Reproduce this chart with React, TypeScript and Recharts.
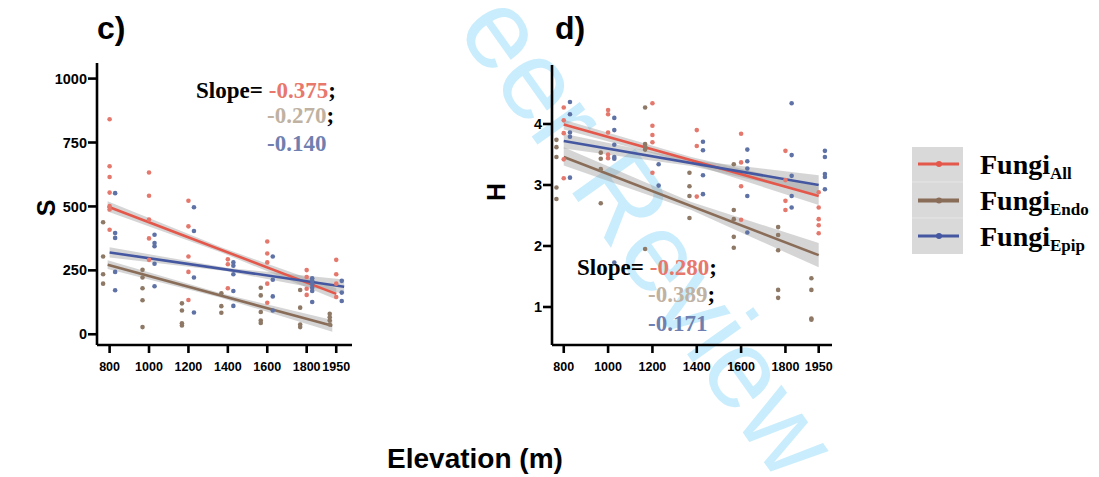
import React from 'react';
import { ComposedChart, XAxis, YAxis, Scatter, Line, Area } from 'recharts';

// ---------- data ----------
const ELEVATIONS = [800, 1000, 1200, 1400, 1600, 1800, 1950];
const X_TICKS = [800, 1000, 1200, 1400, 1600, 1800, 1950];
const S_TICKS = [0, 250, 500, 750, 1000];
const H_TICKS = [1, 2, 3, 4];

// panel c: richness S, grouped by elevation
const S_ALL = [
  [841, 657, 615, 554, 501, 488, 409],
  [633, 542, 449, 375, 291],
  [522, 422, 304, 244, 134],
  [293, 274, 180],
  [363, 316, 281, 198, 123],
  [251, 224, 178, 154],
  [291, 235, 198, 146],
];
const S_ENDO = [
  [438, 304, 235, 198],
  [252, 222, 180, 133, 28],
  [121, 93, 43, 34],
  [160, 110, 84],
  [182, 152, 87, 54, 44],
  [173, 104, 38, 28],
  [80, 67, 54, 38],
];
const S_EPIP = [
  [552, 396, 377, 244, 172],
  [389, 357, 344, 276, 188],
  [497, 404, 222, 85],
  [281, 268, 235, 169, 111],
  [304, 213, 148, 93],
  [219, 209, 196, 182, 169, 126],
  [209, 163, 130],
];

// panel d: Shannon H, grouped by elevation
const H_ALL = [
  [4.27, 4.06, 3.85, 3.42, 3.11],
  [4.23, 4.16, 3.86, 3.5, 3.44],
  [4.34, 3.97, 3.82, 3.7, 3.2],
  [3.9, 3.64, 2.81],
  [3.84, 3.37, 2.98, 2.43],
  [3.56, 3.08, 2.74, 2.59],
  [2.88, 2.63, 2.44, 2.34, 2.21],
];
const H_ENDO = [
  [3.74, 3.62, 3.46, 2.96, 2.77],
  [3.53, 3.43, 3.26, 2.7],
  [4.27, 3.67, 3.63, 3.58, 1.95],
  [3.2, 2.98, 2.82, 2.46],
  [3.34, 2.59, 2.44, 2.15, 1.97],
  [2.31, 2.18, 1.93, 1.28, 1.15],
  [1.47, 1.28, 0.81, 0.79],
];
const H_EPIP = [
  [4.36, 4.16, 3.86, 3.79, 3.12],
  [4.1, 3.9, 3.66, 3.46, 3.43, 1.73],
  [3.34, 2.99],
  [3.71, 3.57, 3.16, 2.85],
  [3.58, 3.39, 3.27, 2.82, 2.22],
  [4.34, 3.49, 3.15, 2.82, 2.63],
  [3.56, 3.46, 3.18, 3.13, 2.93],
];

// fitted regression lines (end points) and confidence bands
const FIT_S_ALL = { x: [790, 1950], y: [500, 158] };
const FIT_S_ENDO = { x: [790, 1930], y: [272, 33] };
const FIT_S_EPIP = { x: [800, 1990], y: [320, 186] };
const BAND_S_ALL = { x: [790, 1370, 1950], lo: [480, 319, 136], hi: [520, 339, 180] };
const BAND_S_ENDO = { x: [790, 1360, 1930], lo: [255, 144, 10], hi: [289, 161, 56] };
const BAND_S_EPIP = { x: [800, 1395, 1990], lo: [300, 246, 158], hi: [340, 260, 214] };

const FIT_H_ALL = { x: [800, 1950], y: [3.99, 2.82] };
const FIT_H_ENDO = { x: [800, 1950], y: [3.46, 1.85] };
const FIT_H_EPIP = { x: [800, 1950], y: [3.72, 3.0] };
const BAND_H_ALL = { x: [800, 1375, 1950], lo: [3.91, 3.35, 2.67], hi: [4.07, 3.46, 2.97] };
const BAND_H_ENDO = { x: [800, 1375, 1950], lo: [3.32, 2.59, 1.65], hi: [3.62, 2.72, 2.05] };
const BAND_H_EPIP = { x: [800, 1375, 1950], lo: [3.6, 3.31, 2.84], hi: [3.84, 3.41, 3.16] };

const SLOPES_S = ['-0.375', '-0.270', '-0.140'];
const SLOPES_H = ['-0.280', '-0.389', '-0.171'];
const LEGEND = [
  { name: 'Fungi', sub: 'All' },
  { name: 'Fungi', sub: 'Endo' },
  { name: 'Fungi', sub: 'Epip' },
];

// ---------- styles ----------
const DODGE = { all: 0, endo: -33, epip: 28 };
const PT = { all: '#E5786D', endo: '#8E7866', epip: '#5F72A6' };
const LN = { all: '#E4574B', endo: '#8A6D58', epip: '#4457A0' };
const TXT = { all: '#E8776C', endo: '#BFB2A2', epip: '#6F80B0' };
const SANS = "'Liberation Sans', Arial, sans-serif";
const SERIF = "'Liberation Serif', 'Times New Roman', serif";

const toPoints = (groups: number[][], dodge: number) =>
  groups.flatMap((vals, i) => vals.map((v) => ({ x: ELEVATIONS[i] + dodge, y: v })));
const toLine = (f: { x: number[]; y: number[] }) => f.x.map((x, i) => ({ x, y: f.y[i] }));
const toBand = (b: { x: number[]; lo: number[]; hi: number[] }) =>
  b.x.map((x, i) => ({ x, range: [b.lo[i], b.hi[i]] }));

const dotShape = (color: string) => (props: any) =>
  <circle cx={props.cx} cy={props.cy} r={2.3} fill={color} />;

type PanelProps = {
  left: number;
  margin: { top: number; right: number; bottom: number; left: number };
  xDomain: [number, number];
  yDomain: [number, number];
  yTicks: number[];
  yFont: number;
  all: number[][]; endo: number[][]; epip: number[][];
  fits: { x: number[]; y: number[] }[];
  bands: { x: number[]; lo: number[]; hi: number[] }[];
};

function Panel(p: PanelProps) {
  const keys: ('all' | 'endo' | 'epip')[] = ['all', 'endo', 'epip'];
  const groups = { all: p.all, endo: p.endo, epip: p.epip };
  return (
    <div style={{ position: 'absolute', left: p.left, top: 0 }}>
      <ComposedChart width={400} height={400} margin={p.margin}>
        <XAxis
          type="number"
          dataKey="x"
          domain={p.xDomain}
          ticks={X_TICKS}
          interval={0}
          allowDataOverflow
          height={30}
          axisLine={{ stroke: '#000', strokeWidth: 2.6 }}
          tickLine={{ stroke: '#000', strokeWidth: 2.6 }}
          tickSize={8}
          tickMargin={9}
          tick={{ fill: '#000', fontSize: 12.5, fontWeight: 700, fontFamily: SANS }}
        />
        <YAxis
          type="number"
          dataKey="y"
          domain={p.yDomain}
          ticks={p.yTicks}
          interval={0}
          allowDataOverflow
          width={60}
          axisLine={{ stroke: '#000', strokeWidth: 2.6 }}
          tickLine={{ stroke: '#000', strokeWidth: 2.6 }}
          tickSize={9}
          tickMargin={1}
          tick={{ fill: '#000', fontSize: p.yFont, fontWeight: 700, fontFamily: SANS }}
        />
        {keys.map((k) => (
          <Scatter
            key={'s' + k}
            data={toPoints(groups[k], DODGE[k])}
            dataKey="y"
            shape={dotShape(PT[k])}
            isAnimationActive={false}
          />
        ))}
        {keys.map((k, i) => (
          <Area
            key={'a' + k}
            data={toBand(p.bands[i])}
            dataKey="range"
            type="linear"
            stroke="none"
            fill="#9a9a9a"
            fillOpacity={0.42}
            dot={false}
            activeDot={false}
            isAnimationActive={false}
          />
        ))}
        {keys.map((k, i) => (
          <Line
            key={'l' + k}
            data={toLine(p.fits[i])}
            dataKey="y"
            type="linear"
            stroke={LN[k]}
            strokeWidth={2.6}
            dot={false}
            activeDot={false}
            isAnimationActive={false}
          />
        ))}
      </ComposedChart>
    </div>
  );
}

function SlopeText({ x, y, vals }: { x: number[]; y: number[]; vals: string[] }) {
  const cols = [TXT.all, TXT.endo, TXT.epip];
  return (
    <g fontFamily={SERIF} fontWeight={700} fontSize={23}>
      <text x={x[0]} y={y[0]} fill="#000">
        Slope=
        <tspan dx={6} fill={cols[0]}>{vals[0]}</tspan>
        <tspan fill="#000">;</tspan>
      </text>
      <text x={x[1]} y={y[1]}>
        <tspan fill={cols[1]}>{vals[1]}</tspan>
        <tspan fill="#000">;</tspan>
      </text>
      <text x={x[1]} y={y[2]} fill={cols[2]}>{vals[2]}</text>
    </g>
  );
}

export default function App() {
  const legendY = [164, 200.5, 236];
  const legendCols = [LN.all, LN.endo, LN.epip];
  const legendW = [3, 4, 3];
  return (
    <div style={{ position: 'absolute', left: 0, top: 0, width: 1099, height: 477, background: '#fff', overflow: 'hidden' }}>
      {/* watermark */}
      <svg width={1099} height={477} style={{ position: 'absolute', left: 0, top: 0 }}>
        <text
          transform="translate(296,-194) rotate(54.5)"
          fontFamily={SANS}
          fontSize={112}
          fill="#c9edfc"
        >
          For Peer Review
        </text>
      </svg>

      <Panel
        left={0}
        margin={{ top: 63, right: 48, bottom: 25, left: 37 }}
        xDomain={[736, 2030]}
        yDomain={[-42, 1061]}
        yTicks={S_TICKS}
        yFont={14.5}
        all={S_ALL}
        endo={S_ENDO}
        epip={S_EPIP}
        fits={[FIT_S_ALL, FIT_S_ENDO, FIT_S_EPIP]}
        bands={[BAND_S_ALL, BAND_S_ENDO, BAND_S_EPIP]}
      />
      <Panel
        left={450}
        margin={{ top: 65, right: 18, bottom: 25, left: 42 }}
        xDomain={[747, 2010]}
        yDomain={[0.377, 4.967]}
        yTicks={H_TICKS}
        yFont={14.5}
        all={H_ALL}
        endo={H_ENDO}
        epip={H_EPIP}
        fits={[FIT_H_ALL, FIT_H_ENDO, FIT_H_EPIP]}
        bands={[BAND_H_ALL, BAND_H_ENDO, BAND_H_EPIP]}
      />

      {/* overlay texts and legend */}
      <svg width={1099} height={477} style={{ position: 'absolute', left: 0, top: 0, pointerEvents: 'none' }}>
        <text x={97} y={39} fontFamily={SANS} fontWeight={700} fontSize={32} fill="#000">c)</text>
        <text x={555} y={39} fontFamily={SANS} fontWeight={700} fontSize={32} fill="#000">d)</text>
        <text transform="translate(55,208) rotate(-90)" textAnchor="middle" fontFamily={SANS} fontWeight={700} fontSize={25} fill="#000">S</text>
        <text transform="translate(505,192) rotate(-90)" textAnchor="middle" fontFamily={SANS} fontWeight={700} fontSize={25} fill="#000">H</text>
        <text x={475} y={468} textAnchor="middle" fontFamily={SANS} fontWeight={700} fontSize={28} fill="#000">Elevation (m)</text>

        <SlopeText x={[196, 267]} y={[98, 123, 150.5]} vals={SLOPES_S} />
        <SlopeText x={[577, 648]} y={[275, 301.7, 330.5]} vals={SLOPES_H} />

        <rect x={912} y={147} width={51} height={107} fill="#d9d9d9" />
        <line x1={912} x2={963} y1={182} y2={182} stroke="#e6e6e6" strokeWidth={1} />
        <line x1={912} x2={963} y1={218} y2={218} stroke="#e6e6e6" strokeWidth={1} />
        {LEGEND.map((l, i) => (
          <g key={i}>
            <line x1={918} x2={959} y1={legendY[i]} y2={legendY[i]} stroke={legendCols[i]} strokeWidth={legendW[i]} />
            <circle cx={939} cy={legendY[i]} r={3} fill={legendCols[i]} />
            <text x={980} y={legendY[i] + 9.5} fontFamily={SERIF} fontWeight={700} fontSize={28} fill="#000">
              {l.name}
              <tspan fontSize={17} dy={5}>{l.sub}</tspan>
            </text>
          </g>
        ))}
      </svg>
    </div>
  );
}
